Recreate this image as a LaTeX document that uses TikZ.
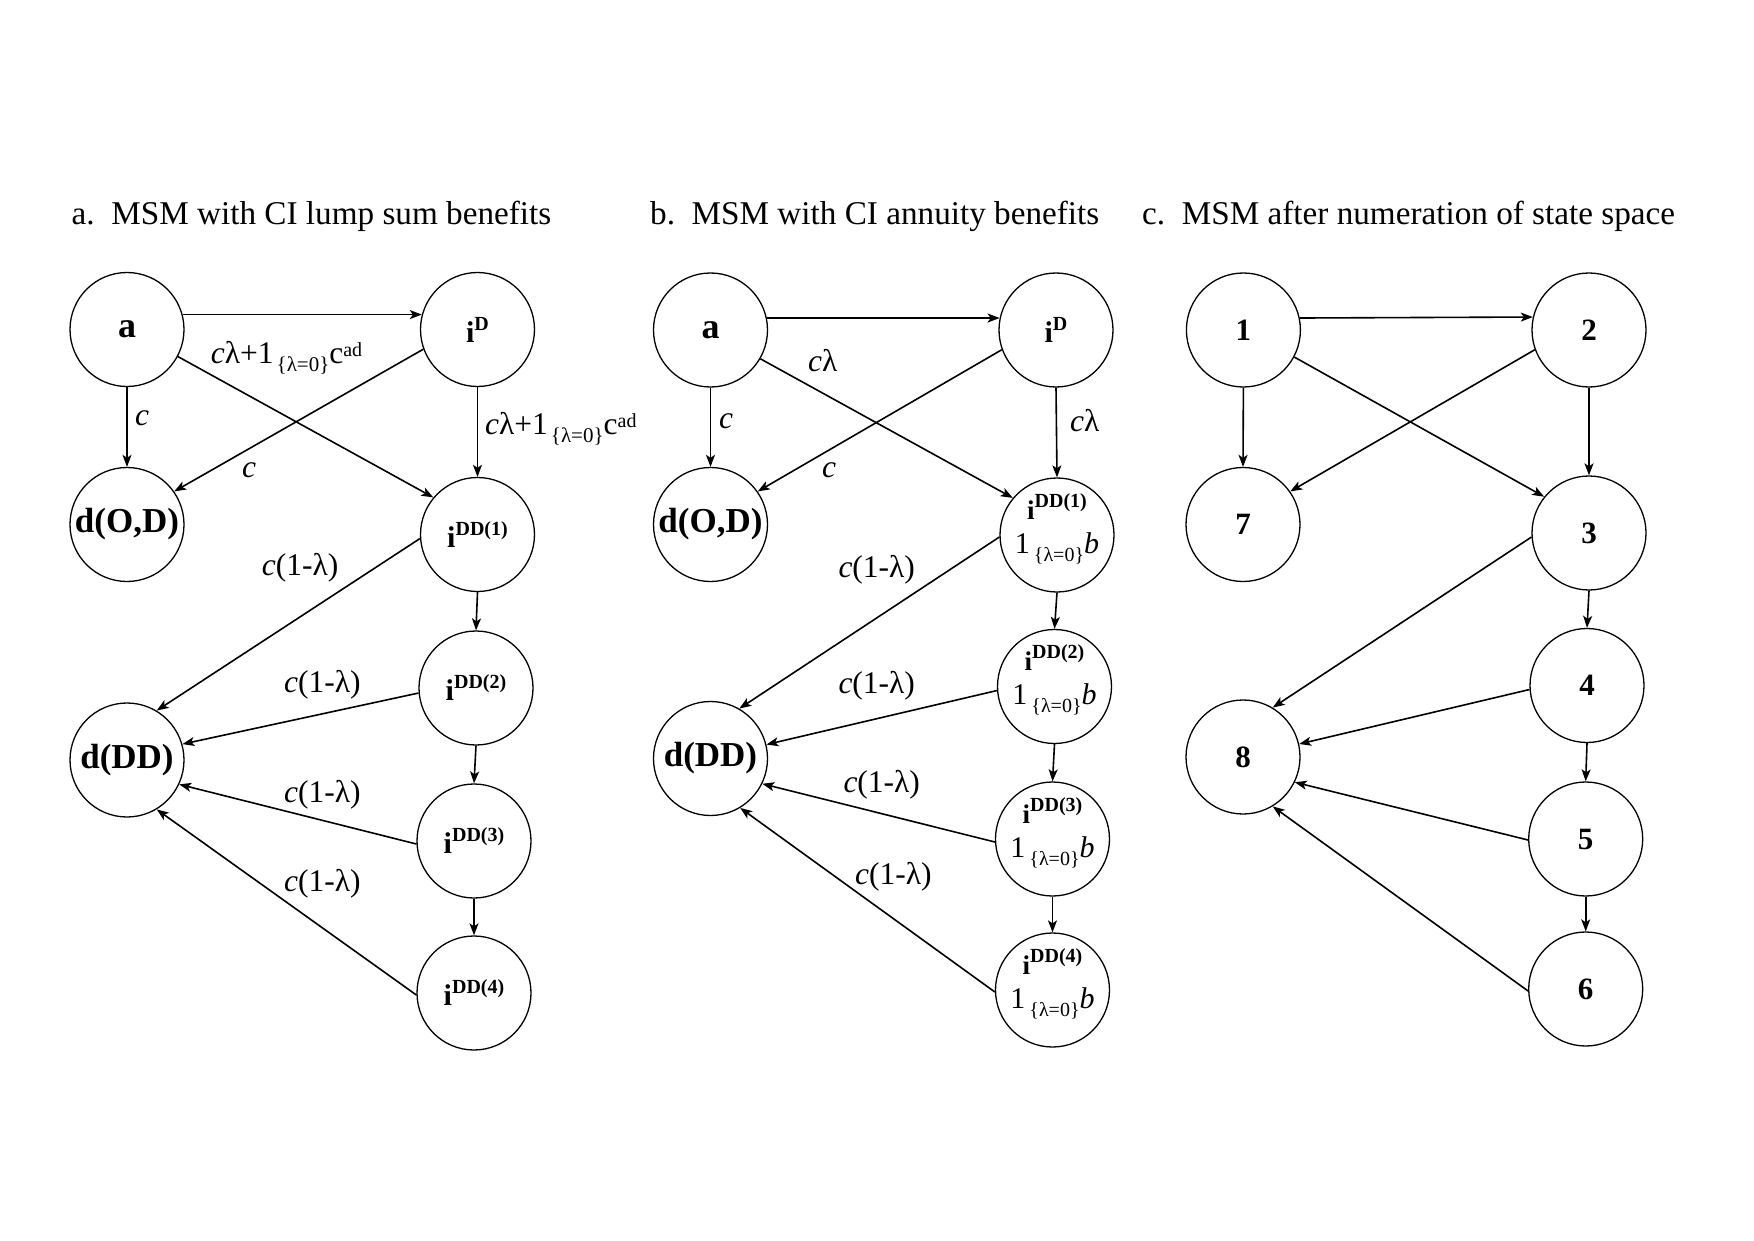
\documentclass[tikz,border=0pt]{standalone}
\usepackage{fontspec}
\setmainfont{Liberation Serif}
\usetikzlibrary{arrows.meta}
\newcommand{\hisup}[1]{\raisebox{12pt}{\fontsize{20}{20}\selectfont #1}}
\newcommand{\losub}[1]{\raisebox{-8pt}{\fontsize{20}{20}\selectfont\mdseries #1}}
\newcommand{\indic}{1\hspace{4pt}\losub{\{λ=0\}}\textit{b}}
\newcommand{\lumpcost}{\textit{c}λ+1\hspace{3pt}{\fontsize{21}{21}\selectfont\raisebox{-8pt}{\{λ=0\}}}c\raisebox{7pt}{\fontsize{20}{20}\selectfont ad}}
\begin{document}
\begin{tikzpicture}[x=1pt,y=-1pt,
  st/.style={circle,draw,line width=1.3pt,minimum size=114pt,inner sep=0pt,
    font=\bfseries\fontsize{30}{30}\selectfont},
  big/.style={font=\bfseries\fontsize{35}{35}\selectfont},
  num/.style={font=\bfseries\fontsize{31}{31}\selectfont},
  arr/.style={line width=1.6pt,-{Stealth[length=12pt,width=9pt,inset=3pt]}},
  lbl/.style={inner sep=0pt,anchor=base west,font=\fontsize{31.5}{31.5}\selectfont},
  ttl/.style={inner sep=0pt,anchor=base west,font=\fontsize{33.2}{33.2}\selectfont},
  itop/.style={inner sep=0pt,anchor=base,font=\bfseries\fontsize{27}{27}\selectfont},
  ibot/.style={inner sep=0pt,anchor=base,font=\fontsize{30}{30}\selectfont}]
\fill[white] (0,0) rectangle (1754,1241);
\useasboundingbox (0,0) rectangle (1754,1241);

% titles
\node[ttl] (ta) at (71.5,225) {a.\ \ MSM with CI lump sum benefits};
\node[ttl] (tb) at (650,225) {b.\ \ MSM with CI annuity benefits};
\node[ttl] (tc) at (1142,225) {c.\ \ MSM after numeration of state space};

% ---------------- panel a ----------------
\node[st] (aA) at (127,329.5) {\fontsize{36}{36}\selectfont a};
\node[st] (aD) at (477.5,329.5) {i\hisup{D}};
\node[st,big] (aOD) at (127,524.5) {d(O,D)};
\node[st] (aI1) at (477.5,534.5) {i\hisup{DD(1)}};
\node[st] (aI2) at (476,688) {i\hisup{DD(2)}};
\node[st] (aI3) at (474,841) {i\hisup{DD(3)}};
\node[st] (aI4) at (474,993) {i\hisup{DD(4)}};
\node[st,big] (aDD) at (127,760) {d(DD)};

\draw[arr] (aA.15) -- (aD.165);
\draw[arr] (aA.-28.5) -- (aI1.140);
\draw[arr] (aA.south) -- (aOD.north);
\draw[arr] (aD.200) -- (aOD.35);
\draw[arr] (aD.south) -- (aI1.north);
\draw[arr] (aI1.south) -- (aI2.north);
\draw[arr] (aI2.south) -- (aI3.north);
\draw[arr] (aI3.south) -- (aI4.north);
\draw[arr] (aI1.184) -- (aDD.59);
\draw[arr] (aI2.185) -- (aDD.16);
\draw[arr] (aI3.183) -- (aDD.-25);
\draw[arr] (aI4.182) -- (aDD.-59);

\node[lbl] (la1) at (210.7,363.3) {\lumpcost};
\node[lbl] (la2) at (485,434) {\lumpcost};
\node[lbl] (la3) at (135,425) {\textit{c}};
\node[lbl] (la4) at (242,477) {\textit{c}};
\node[lbl] (la5) at (261.7,575) {\textit{c}(1-λ)};
\node[lbl] (la6) at (283.9,692.7) {\textit{c}(1-λ)};
\node[lbl] (la7) at (283.9,802.7) {\textit{c}(1-λ)};
\node[lbl] (la8) at (283.9,891) {\textit{c}(1-λ)};

% ---------------- panel b ----------------
\node[st] (bA) at (710.5,330) {\fontsize{36}{36}\selectfont a};
\node[st] (bD) at (1056,330) {i\hisup{D}};
\node[st,big] (bOD) at (710.5,524.5) {d(O,D)};
\node[st] (bI1) at (1057,535) {};
\node[st] (bI2) at (1054.5,686.5) {};
\node[st] (bI3) at (1052.5,839) {};
\node[st] (bI4) at (1052.5,990) {};
\node[st,big] (bDD) at (710.5,758.5) {d(DD)};

\node[itop] (bI1t) at ([yshift=16pt]bI1.center) {i\hisup{DD(1)}};
\node[ibot] (bI1b) at ([yshift=-18pt]bI1.center) {\indic};
\node[itop] (bI2t) at ([yshift=16pt]bI2.center) {i\hisup{DD(2)}};
\node[ibot] (bI2b) at ([yshift=-18pt]bI2.center) {\indic};
\node[itop] (bI3t) at ([yshift=16pt]bI3.center) {i\hisup{DD(3)}};
\node[ibot] (bI3b) at ([yshift=-18pt]bI3.center) {\indic};
\node[itop] (bI4t) at ([yshift=16pt]bI4.center) {i\hisup{DD(4)}};
\node[ibot] (bI4b) at ([yshift=-18pt]bI4.center) {\indic};

\draw[arr] (bA.12) -- (bD.168);
\draw[arr] (bA.-30) -- (bI1.140);
\draw[arr] (bA.south) -- (bOD.north);
\draw[arr] (bD.200.8) -- (bOD.35);
\draw[arr] (bD.south) -- (bI1.north);
\draw[arr] (bI1.south) -- (bI2.north);
\draw[arr] (bI2.south) -- (bI3.north);
\draw[arr] (bI3.south) -- (bI4.north);
\draw[arr] (bI1.182) -- (bDD.60);
\draw[arr] (bI2.184) -- (bDD.14.6);
\draw[arr] (bI3.183) -- (bDD.-26);
\draw[arr] (bI4.182) -- (bDD.-59);

\node[lbl] (lb1) at (808,371.7) {\textit{c}λ};
\node[lbl] (lb2) at (1070,431) {\textit{c}λ};
\node[lbl] (lb3) at (719,428) {\textit{c}};
\node[lbl] (lb4) at (822,477) {\textit{c}};
\node[lbl] (lb5) at (838.3,577) {\textit{c}(1-λ)};
\node[lbl] (lb6) at (838.3,693.3) {\textit{c}(1-λ)};
\node[lbl] (lb7) at (843.3,792.7) {\textit{c}(1-λ)};
\node[lbl] (lb8) at (855,884.3) {\textit{c}(1-λ)};

% ---------------- panel c ----------------
\node[st,num] (c1) at (1243.4,330) {1};
\node[st,num] (c2) at (1589,330) {2};
\node[st,num] (c7) at (1243,524.5) {7};
\node[st,num] (c3) at (1589,533) {3};
\node[st,num] (c4) at (1587,685.5) {4};
\node[st,num] (c5) at (1585.7,839) {5};
\node[st,num] (c6) at (1585.7,989) {6};
\node[st,num] (c8) at (1243,757) {8};

\draw[arr] (c1.12.7) -- (c2.167.3);
\draw[arr] (c1.-28.7) -- (c3.141);
\draw[arr] (c1.south) -- (c7.north);
\draw[arr] (c2.200) -- (c7.35.7);
\draw[arr] (c2.south) -- (c3.north);
\draw[arr] (c3.south) -- (c4.north);
\draw[arr] (c4.south) -- (c5.north);
\draw[arr] (c5.south) -- (c6.north);
\draw[arr] (c3.184) -- (c8.59);
\draw[arr] (c4.184) -- (c8.13.5);
\draw[arr] (c5.181.6) -- (c8.-26);
\draw[arr] (c6.182.6) -- (c8.-59.3);
\end{tikzpicture}
\end{document}
